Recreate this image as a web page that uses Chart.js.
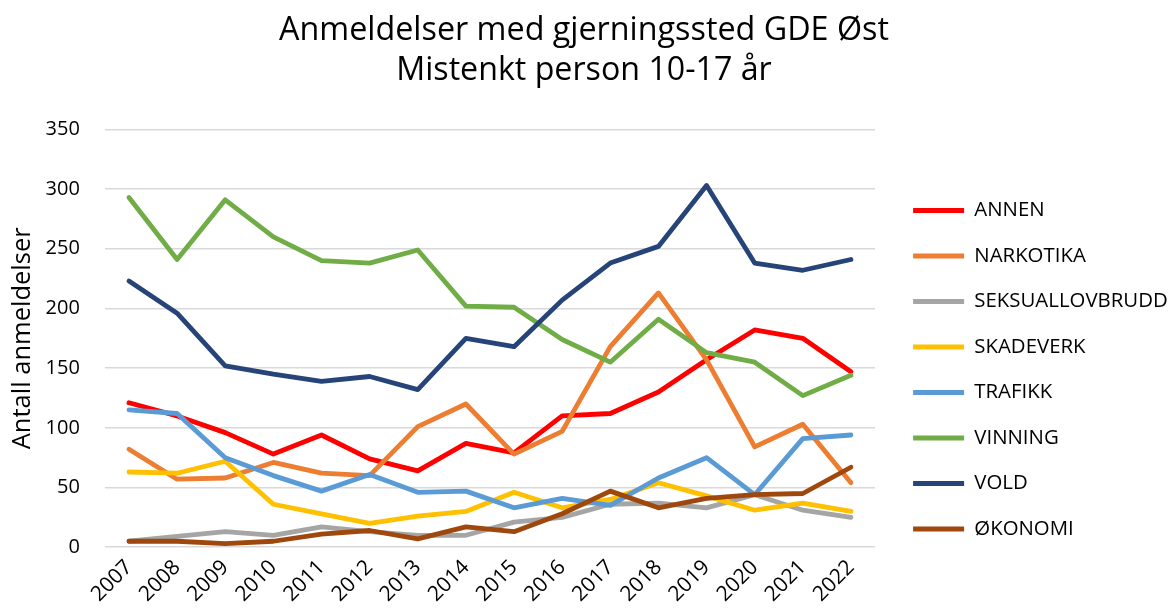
<!DOCTYPE html>
<html>
<head>
<meta charset="utf-8">
<script src="https://cdn.jsdelivr.net/npm/chart.js"></script>
<style>
  html, body { margin: 0; padding: 0; background: #fff; }
  #wrap { width: 1169px; height: 609px; }
</style>
</head>
<body>
<div id="wrap"><canvas id="chart" width="1169" height="609"></canvas></div>
<script>
// Data
const years = ['2007', '2008', '2009', '2010', '2011', '2012', '2013', '2014',
  '2015', '2016', '2017', '2018', '2019', '2020', '2021', '2022'];

const annen =      [121, 110,  96,  78,  94,  74,  64,  87,  79, 110, 112, 130, 157, 182, 175, 147];
const narkotika =  [ 82,  57,  58,  71,  62,  60, 101, 120,  78,  97, 168, 213, 157,  84, 103,  54];
const seksual =    [  5,   9,  13,  10,  17,  13,  10,  10,  21,  25,  36,  37,  33,  44,  31,  25];
const skadeverk =  [ 63,  62,  72,  36,  28,  20,  26,  30,  46,  33,  40,  54,  43,  31,  37,  30];
const trafikk =    [115, 112,  75,  60,  47,  61,  46,  47,  33,  41,  35,  58,  75,  44,  91,  94];
const vinning =    [293, 241, 291, 260, 240, 238, 249, 202, 201, 174, 155, 191, 163, 155, 127, 144];
const vold =       [223, 196, 152, 145, 139, 143, 132, 175, 168, 207, 238, 252, 303, 238, 232, 241];
const okonomi =    [  5,   5,   3,   5,  11,  14,   7,  17,  13,  28,  47,  33,  41,  44,  45,  67];

const seriesNames = ['ANNEN', 'NARKOTIKA', 'SEKSUALLOVBRUDD', 'SKADEVERK', 'TRAFIKK', 'VINNING', 'VOLD', 'ØKONOMI'];
const seriesValues = [annen, narkotika, seksual, skadeverk, trafikk, vinning, vold, okonomi];
const seriesColors = ['#FF0000', '#ED7D31', '#A5A5A5', '#FFC000', '#5B9BD5', '#70AD47', '#264478', '#9E480E'];

const yTicks = [0, 50, 100, 150, 200, 250, 300, 350];

const FONT = '"Open Sans", sans-serif';

const datasets = seriesNames.map((name, i) => ({
  label: name,
  data: seriesValues[i],
  borderColor: seriesColors[i],
  backgroundColor: seriesColors[i],
  borderWidth: 4.8,
  pointRadius: 0,
  pointHoverRadius: 0,
  tension: 0,
  fill: false,
  borderCapStyle: 'round',
  borderJoinStyle: 'round',
  order: seriesNames.length - i   // later series drawn on top, like Excel
}));

new Chart(document.getElementById('chart').getContext('2d'), {
  type: 'line',
  data: { labels: years, datasets: datasets },
  options: {
    responsive: false,
    animation: false,
    layout: { padding: { left: 0, right: 1, top: 11, bottom: 2 } },
    plugins: {
      title: {
        display: true,
        text: 'Anmeldelser med gjerningssted GDE Øst',
        color: '#000',
        font: { family: FONT, size: 32.3, weight: 'normal' },
        padding: { top: 0, bottom: 2 }
      },
      subtitle: {
        display: true,
        text: 'Mistenkt person 10-17 år',
        color: '#000',
        font: { family: FONT, size: 32.2, weight: 'normal' },
        padding: { top: 0, bottom: 39 }
      },
      legend: {
        position: 'right',
        maxWidth: 280,
        // empty title only pushes the items down
        title: {
          display: true,
          text: ' ',
          font: { family: FONT, size: 10 },
          padding: { top: 109.5, bottom: 0 }
        },
        labels: {
          color: '#000',
          font: { family: FONT, size: 20.4 },
          boxWidth: 51,
          boxHeight: 5,
          padding: 25.1,
          generateLabels: chart => chart.data.datasets.map((ds, i) => ({
            text: ds.label,
            fillStyle: ds.borderColor,
            strokeStyle: ds.borderColor,
            lineWidth: 0,
            fontColor: '#000',
            datasetIndex: i
          }))
        }
      },
      tooltip: { enabled: false }
    },
    scales: {
      x: {
        offset: true,
        grid: { display: false },
        border: { display: false },
        ticks: {
          color: '#000',
          font: { family: FONT, size: 21 },
          maxRotation: 45,
          minRotation: 45,
          autoSkip: false,
          padding: 0
        }
      },
      y: {
        min: 0,
        max: 350,
        afterBuildTicks: axis => { axis.ticks = yTicks.map(v => ({ value: v })); },
        // invisible tick marks make the gap between labels and grid
        grid: { color: '#D9D9D9', lineWidth: 1.5, drawTicks: true, tickLength: 25, tickColor: 'rgba(0,0,0,0)' },
        border: { display: false },
        ticks: {
          color: '#000',
          font: { family: FONT, size: 20 },
          padding: 0
        },
        title: {
          display: true,
          text: 'Antall anmeldelser',
          color: '#000',
          font: { family: FONT, size: 25.5 },
          padding: { top: 7, bottom: 8 }
        }
      },
      // empty right-hand scale, only keeps a gap between plot and legend
      gap: {
        position: 'right',
        display: true,
        grid: { display: false },
        border: { display: false },
        ticks: { display: false },
        afterFit: axis => { axis.width = 13; }
      }
    }
  }
});
</script>
</body>
</html>
